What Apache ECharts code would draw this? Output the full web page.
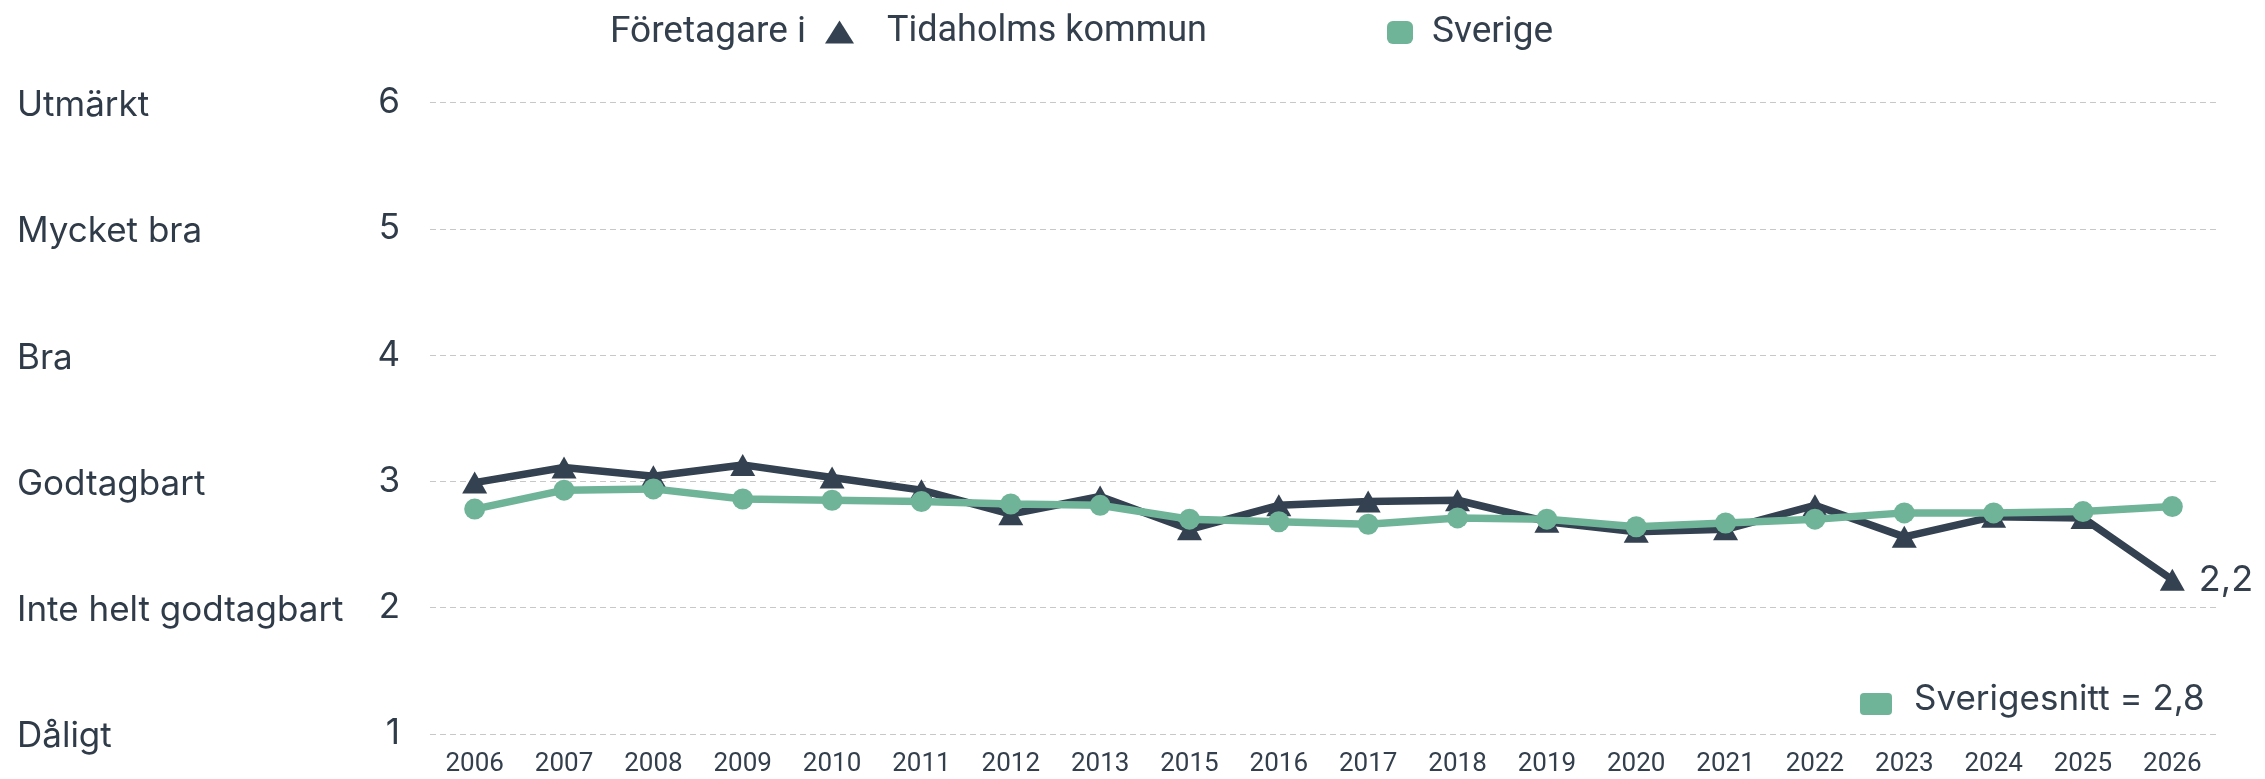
<!DOCTYPE html>
<html><head><meta charset="utf-8">
<script src="https://cdn.jsdelivr.net/npm/echarts@6/dist/echarts.min.js"></script>
<style>html,body{margin:0;padding:0;background:#fff}#c{width:2265px;height:779px}</style>
</head><body><div id="c"></div>
<script>
const years = ['2006','2007','2008','2009','2010','2011','2012','2013','2015','2016','2017','2018','2019','2020','2021','2022','2023','2024','2025','2026'];
const tidaholm = [2.99,3.11,3.04,3.13,3.03,2.93,2.74,2.88,2.62,2.81,2.84,2.85,2.68,2.60,2.62,2.81,2.56,2.72,2.71,2.22];
const sverige  = [2.78,2.93,2.94,2.86,2.85,2.84,2.82,2.81,2.70,2.68,2.66,2.71,2.70,2.64,2.67,2.70,2.75,2.75,2.76,2.80];
const scaleNames = {1:'Dåligt',2:'Inte helt godtagbart',3:'Godtagbart',4:'Bra',5:'Mycket bra',6:'Utmärkt'};
const sverigeAvg = '2,8';
const lastLabel = '2,2';
const dark = '#334150', green = '#6fb498', txt = '#333f4c';

const chart = echarts.init(document.getElementById('c'));
chart.setOption({
  backgroundColor:'#fff',
  animation:false,
  title:{text:'Företagare i', left:605, top:9, textStyle:{fontFamily:'Roboto', fontSize:37, fontWeight:'normal', color:txt}},
  legend:[
    {data:['Tidaholms kommun'], left:820, top:9, itemWidth:29, itemHeight:23, icon:'triangle',
     textStyle:{fontFamily:'Roboto', fontSize:36, color:txt, padding:[0,0,0,28]}},
    {data:['Sverige'], left:1382, top:9, itemWidth:26, itemHeight:23, icon:'roundRect',
     textStyle:{fontFamily:'Roboto', fontSize:37, color:txt, padding:[0,0,0,14]}}
  ],
  grid:{left:430, right:48, top:102.6, bottom:45.2, containLabel:false},
  xAxis:{type:'category', data:years, boundaryGap:true,
    axisLine:{show:false}, axisTick:{show:false},
    axisLabel:{fontFamily:'Roboto', fontSize:26, color:txt, margin:18}},
  yAxis:{type:'value', min:1, max:6, interval:1,
    axisLine:{show:false}, axisTick:{show:false},
    splitLine:{lineStyle:{type:[6,4], color:'#c8c8c8', width:1}},
    axisLabel:{margin:30, formatter:function(v){return '{a|'+scaleNames[v]+'}{b|'+v+'}';},
      rich:{a:{fontFamily:'Inter', fontSize:35, color:'#2f3b48', width:345, align:'left', padding:[6,0,0,0]},
            b:{fontFamily:'Inter', fontSize:35, color:'#2f3b48', width:38, align:'right'}}}},
  graphic:[
    {type:'rect', left:1860, top:693, shape:{width:32, height:22, r:4}, style:{fill:green}},
    {type:'text', left:1914, top:682, style:{text:'Sverigesnitt = '+sverigeAvg, font:'35px Inter', fill:txt}}
  ],
  series:[
    {name:'Tidaholms kommun', type:'line', data:tidaholm.map((v,i)=> i===tidaholm.length-1 ? {value:v, label:{show:true, formatter:lastLabel}} : v),
     symbol:'triangle', symbolSize:[25,22], lineStyle:{color:dark, width:7.5}, itemStyle:{color:dark},
     label:{show:false, position:'right', distance:14, fontFamily:'Inter', fontSize:36, color:txt}, z:2},
    {name:'Sverige', type:'line', data:sverige, symbol:'circle', symbolSize:21,
     lineStyle:{color:green, width:7.5}, itemStyle:{color:green}, z:3}
  ]
});
</script></body></html>
